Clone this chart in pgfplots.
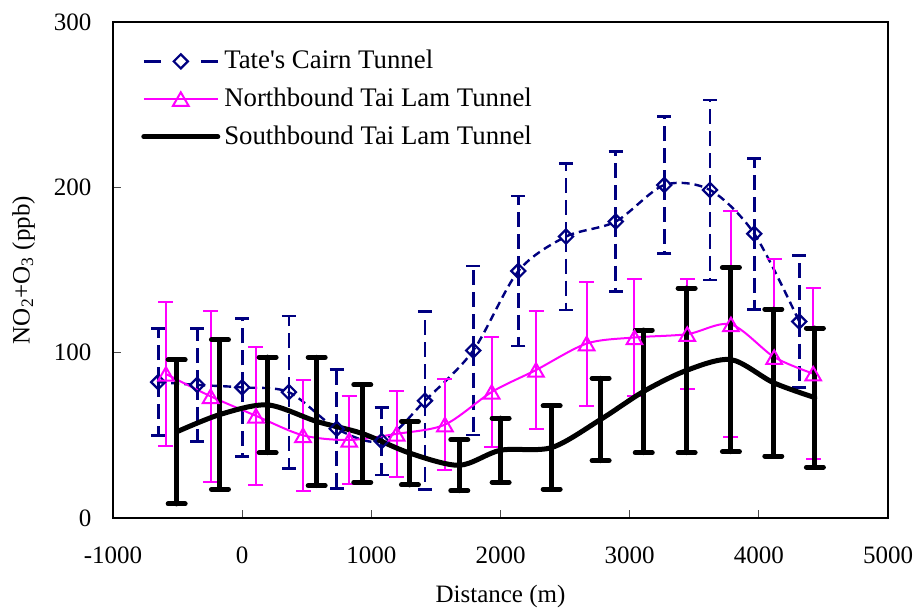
\documentclass[border=0pt]{standalone}
\usepackage{fontspec}
\setmainfont{Liberation Serif}
\usepackage{pgfplots}
\usepackage{pgfplotstable}
\pgfplotsset{compat=1.18}
\definecolor{tcnavy}{RGB}{0,0,128}
\definecolor{nbmag}{RGB}{255,0,255}
\pgfplotsset{
  tatelegend/.style={
    legend image code/.code={
      \draw[##1, solid, line width=1.4bp] (0bp,0bp) -- (8.5bp,0bp) (28.5bp,0bp) -- (37bp,0bp);
      \draw[##1] plot coordinates {(18.5bp,0bp)};
    }
  }
}

\pgfplotstableread{
x y e
-650 82.2 32.2
-348 80.5 34.3
0 79.0 41.9
362 76.1 46.1
732 54.0 36.0
1080 46.5 20.5
1415 70.9 53.9
1789 101.3 51.1
2138 149.4 45.4
2507 170.2 44.4
2892 179.3 42.3
3268 201.4 41.3
3622 198.4 54.4
3965 171.9 45.7
4313 118.8 39.8
}\tatedata

\pgfplotstableread{
x y e
-590 87.1 43.4
-244 73.6 51.6
107 61.8 41.8
471 50.0 33.5
829 47.2 26.6
1196 50.9 25.9
1570 56.5 27.5
1932 76.2 33.1
2275 89.5 35.8
2667 105.5 37.5
3037 109.2 35.4
3446 111.2 33.3
3784 117.1 68.3
4119 97.3 59.2
4421 87.3 51.8
}\northdata

\pgfplotstableread{
x y e
-507 52.1 43.6
-172 62.6 45.2
197 68.4 28.9
577 58.4 38.8
930 51.1 29.5
1299 39.2 19.2
1681 31.9 15.4
2001 41.0 19.4
2396 42.6 25.2
2775 59.6 24.9
3109 76.6 37.1
3441 89.3 49.8
3784 95.8 55.7
4112 81.9 44.4
4434 72.8 42.1
}\southdata

\begin{document}
\fontsize{12.5bp}{15bp}\selectfont
\begin{tikzpicture}
\begin{axis}[
  scale only axis,
  width=387.5bp, height=248bp,
  xmin=-1000, xmax=5000, ymin=0, ymax=300,
  xtick={-1000,0,1000,2000,3000,4000,5000},
  ytick={0,100,200,300},
  xtick pos=left, ytick pos=left,
  tick align=inside,
  major tick length=4bp,
  tick style={line width=0.5bp, black!70},
  axis line style={line width=1.1bp},
  /pgf/number format/assume math mode=true,
  /pgf/number format/1000 sep={},
  xticklabel style={inner xsep=0pt, yshift=-10bp},
  yticklabel style={xshift=-6.5bp},
  xlabel={Distance (m)},
  ylabel={NO\textsubscript{2}+O\textsubscript{3} (ppb)},
  xlabel style={at={(axis description cs:0.5,-0.159)}, anchor=center, inner sep=0pt},
  ylabel style={at={(axis description cs:-0.1155,0.5)}, anchor=center, inner sep=0pt},
  legend style={at={(axis description cs:0.036,0.952)}, anchor=north west,
    draw=none, fill=none, inner sep=0pt, row sep=3.7bp,
    font=\fontsize{13.4bp}{16bp}\selectfont,
    /tikz/every even column/.append style={column sep=0bp}},
  legend cell align=left,
  legend image code/.code={
    \draw[mark repeat=2,mark phase=2,#1] plot coordinates {(0bp,0bp) (18.5bp,0bp) (37bp,0bp)};
  },
]
% Tate's Cairn Tunnel
\addplot[color=tcnavy, line width=1.2bp, dash pattern=on 4bp off 2.5bp, smooth,
  mark=square, mark size=2.5bp,
  mark options={solid, rotate=45, fill=white, line width=1.1bp},
  tatelegend,
  error bars/.cd, y dir=both, y explicit,
  error bar style={line width=1.4bp, dash pattern=on 7.5bp off 3.5bp},
  error mark options={solid, rotate=90, line width=1.4bp, mark size=3.5bp, tcnavy}]
  table[x=x, y=y, y error=e] {\tatedata};
\addlegendentry{Tate\textquotesingle s Cairn Tunnel}
% Northbound Tai Lam Tunnel
\addplot[color=nbmag, line width=1bp, smooth,
  mark=triangle, mark size=4.5bp,
  mark options={solid, fill=white, line width=1bp, yshift=-1.1bp},
  error bars/.cd, y dir=both, y explicit,
  error bar style={line width=1bp, solid},
  error mark options={solid, rotate=90, line width=1bp, mark size=3.75bp, nbmag}]
  table[x=x, y=y, y error=e] {\northdata};
\addlegendentry{Northbound Tai Lam Tunnel}
% Southbound Tai Lam Tunnel
\addplot[color=black, line width=2.5bp, smooth, no markers, line cap=round,
  error bars/.cd, y dir=both, y explicit,
  error bar style={line width=2.5bp, solid, line cap=round},
  error mark options={solid, rotate=90, line width=2.5bp, mark size=4.25bp, black, line cap=round}]
  table[x=x, y=y, y error=e] {\southdata};
\addlegendentry{Southbound Tai Lam Tunnel}
\end{axis}
\path ([shift={(-56.5bp,-47.5bp)}]current axis.south west) rectangle ([shift={(14bp,11bp)}]current axis.north east);
\end{tikzpicture}
\end{document}
